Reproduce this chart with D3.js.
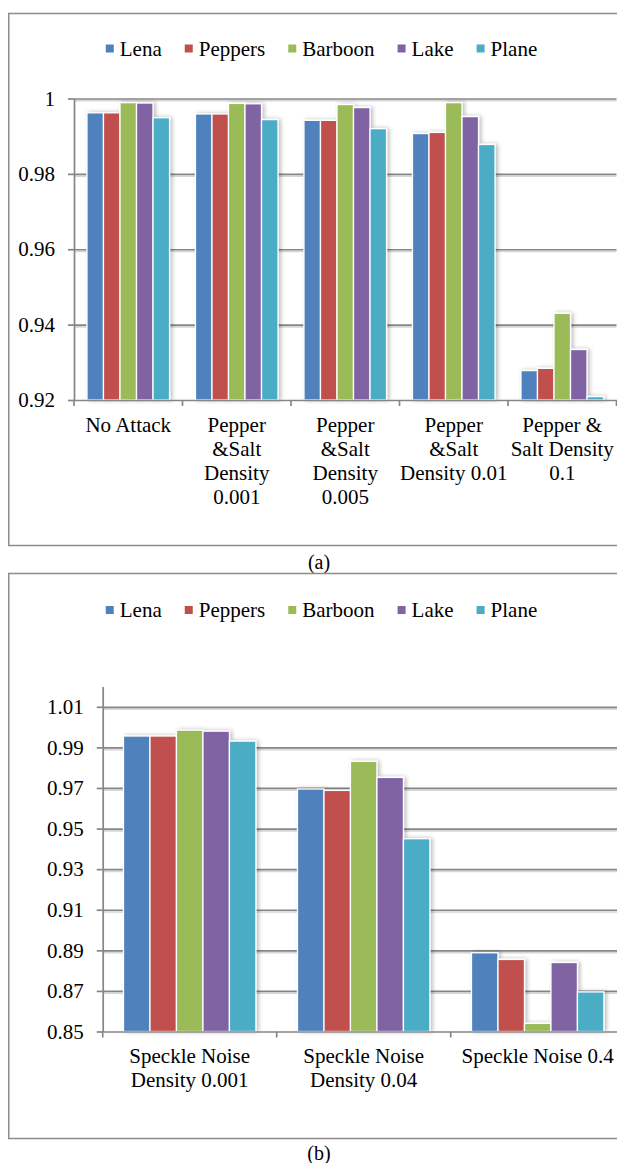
<!DOCTYPE html>
<html><head><meta charset="utf-8">
<script src="https://cdn.jsdelivr.net/npm/d3@7"></script>
</head>
<body style="margin:0">
<svg id="c" width="617" height="1163" style="font-family:'Liberation Serif'"></svg>
<script>
// ---- data ----
const seriesNames = ["Lena","Peppers","Barboon","Lake","Plane"];
const seriesColors = ["#4F81BD","#C0504D","#9BBB59","#8064A2","#4BACC6"];

// chart (a)
const catsA = [["No Attack"],["Pepper","&Salt","Density","0.001"],["Pepper","&Salt","Density","0.005"],["Pepper","&Salt","Density 0.01"],["Pepper &","Salt Density","0.1"]];
const lenaA    = [0.9962,0.9959,0.9942,0.9907,0.9278];
const peppersA = [0.9962,0.9959,0.9942,0.9910,0.9284];
const barboonA = [0.9989,0.9987,0.9984,0.9989,0.9430];
const lakeA    = [0.9988,0.9986,0.9976,0.9952,0.9334];
const planeA   = [0.9949,0.9944,0.9920,0.9878,0.9209];
const ticksA = [0.92,0.94,0.96,0.98,1];
const tickLabelsA = ["0.92","0.94","0.96","0.98","1"];

// chart (b)
const catsB = [["Speckle Noise","Density 0.001"],["Speckle Noise","Density 0.04"],["Speckle Noise 0.4"]];
const lenaB    = [0.9956,0.9695,0.8888];
const peppersB = [0.9956,0.9688,0.8855];
const barboonB = [0.9985,0.9831,0.8540];
const lakeB    = [0.9980,0.9752,0.8840];
const planeB   = [0.9931,0.9450,0.8695];
const ticksB = [0.85,0.87,0.89,0.91,0.93,0.95,0.97,0.99,1.01];
const tickLabelsB = ["0.85","0.87","0.89","0.91","0.93","0.95","0.97","0.99","1.01"];

// ---- drawing ----
const svg = d3.select("#c");
const FONT = 21;
const AXIS = "#868686";
function serif(sel, size){ return sel.style("font-family","'Liberation Serif'").attr("font-size",size).attr("fill","#000"); }

const defs = svg.append("defs");
const f = defs.append("filter").attr("id","sh").attr("x","-30%").attr("y","-10%").attr("width","160%").attr("height","120%");
f.append("feGaussianBlur").attr("in","SourceAlpha").attr("stdDeviation",2.2).attr("result","bl");
f.append("feOffset").attr("in","bl").attr("dx",2).attr("dy",0).attr("result","of");
const ct = f.append("feComponentTransfer").attr("in","of").attr("result","sf");
ct.append("feFuncA").attr("type","linear").attr("slope",0.28);
const mg = f.append("feMerge");
mg.append("feMergeNode").attr("in","sf");
mg.append("feMergeNode").attr("in","SourceGraphic");

svg.append("rect").attr("width",617).attr("height",1163).attr("fill","#fff");

function legend(cy){
  const g = svg.append("g");
  const items = seriesNames.map((n,i)=>{
    const it = g.append("g");
    it.append("rect").attr("x",0).attr("y",cy-4).attr("width",8).attr("height",8).attr("fill",seriesColors[i]);
    const t = serif(it.append("text").attr("x",14).attr("y",cy+7), FONT).text(n);
    return {it, w: 14 + t.node().getComputedTextLength()};
  });
  const gap = 23;
  const total = d3.sum(items,d=>d.w) + gap*(items.length-1);
  let x = 321.5 - total/2;
  items.forEach(d=>{ d.it.attr("transform",`translate(${x},0)`); x += d.w + gap; });
}

function chart(o){
  const {cats, series, ticks, tickLabels, yDomain, yRange, xRange, frameTop, frameBottom, legendY, caption, captionY} = o;
  svg.append("rect").attr("x",8.75).attr("y",frameTop).attr("width",640).attr("height",frameBottom-frameTop)
    .attr("fill","none").attr("stroke","#8c8c8c").attr("stroke-width",1.5);
  legend(legendY);

  const y = d3.scaleLinear().domain(yDomain).range(yRange);
  const x0 = d3.scaleBand().domain(d3.range(cats.length)).range(xRange).paddingInner(0).paddingOuter(0);
  const x1 = d3.scaleBand().domain(d3.range(seriesNames.length)).range([0,x0.bandwidth()]).paddingInner(0).paddingOuter(0.785);
  const left = xRange[0], right = xRange[1];

  const gridTicks = ticks.slice(1);
  const gsh = svg.append("g").attr("transform",`translate(${left},1.8)`)
    .call(d3.axisLeft(y).tickValues(gridTicks).tickSize(-(right-left)).tickFormat(""));
  gsh.select(".domain").remove();
  gsh.selectAll("line").attr("stroke","#d6d6d6").attr("stroke-width",1.6);
  const gg = svg.append("g").attr("transform",`translate(${left},0)`)
    .call(d3.axisLeft(y).tickValues(gridTicks).tickSize(-(right-left)).tickFormat(""));
  gg.select(".domain").remove();
  gg.selectAll("line").attr("stroke",AXIS).attr("stroke-width",1.7);

  const base = y(yDomain[0]);
  cats.forEach((c,ci)=>{
    const g = svg.append("g").attr("filter","url(#sh)");
    series.forEach((vals,si)=>{
      const v = vals[ci];
      g.append("rect")
        .attr("x", x0(ci) + x1(si))
        .attr("y", y(v))
        .attr("width", x1.bandwidth())
        .attr("height", base - y(v))
        .attr("fill", seriesColors[si])
        .attr("stroke","#fff").attr("stroke-width",1.3);
    });
  });

  const ya = svg.append("g").attr("transform",`translate(${left},0)`)
    .call(d3.axisLeft(y).tickValues(ticks).tickFormat((d,i)=>tickLabels[i]).tickSizeInner(6).tickSizeOuter(0).tickPadding(13));
  ya.attr("font-family",null).attr("font-size",null);
  ya.select(".domain").attr("stroke",AXIS).attr("stroke-width",1.7);
  ya.selectAll("line").attr("stroke",AXIS).attr("stroke-width",1.7);
  serif(ya.selectAll("text"), FONT);

  const xa = svg.append("g").attr("transform",`translate(0,${base})`)
    .call(d3.axisBottom(x0).tickValues([]).tickSizeOuter(0));
  xa.attr("font-family",null);
  xa.select(".domain").attr("stroke",AXIS).attr("stroke-width",1.7);
  const bounds = d3.range(cats.length+1).map(i=> i<cats.length ? x0(i) : right);
  svg.append("g").selectAll("line").data(bounds).join("line")
    .attr("x1",d=>d).attr("x2",d=>d).attr("y1",base).attr("y2",base+6)
    .attr("stroke",AXIS).attr("stroke-width",1.7);

  cats.forEach((lines,ci)=>{
    const cx = x0(ci) + x0.bandwidth()/2;
    lines.forEach((ln,li)=>{
      serif(svg.append("text").attr("x",cx).attr("y",base + 31.5 + li*24.2)
        .attr("text-anchor","middle"), FONT).text(ln);
    });
  });

  serif(svg.append("text").attr("x",319).attr("y",captionY).attr("text-anchor","middle"), 20).text(caption);
}

chart({
  cats: catsA, series:[lenaA,peppersA,barboonA,lakeA,planeA],
  ticks: ticksA, tickLabels: tickLabelsA,
  yDomain:[0.92,1], yRange:[400,98.5], xRange:[74,616.5],
  frameTop:13.5, frameBottom:545.5, legendY:48.5, caption:"(a)", captionY:569
});
chart({
  cats: catsB, series:[lenaB,peppersB,barboonB,lakeB,planeB],
  ticks: ticksB, tickLabels: tickLabelsB,
  yDomain:[0.85,1.02], yRange:[1031.5,686.5], xRange:[102.7,624.7],
  frameTop:573.5, frameBottom:1138.5, legendY:610, caption:"(b)", captionY:1160
});
</script>
</body></html>
